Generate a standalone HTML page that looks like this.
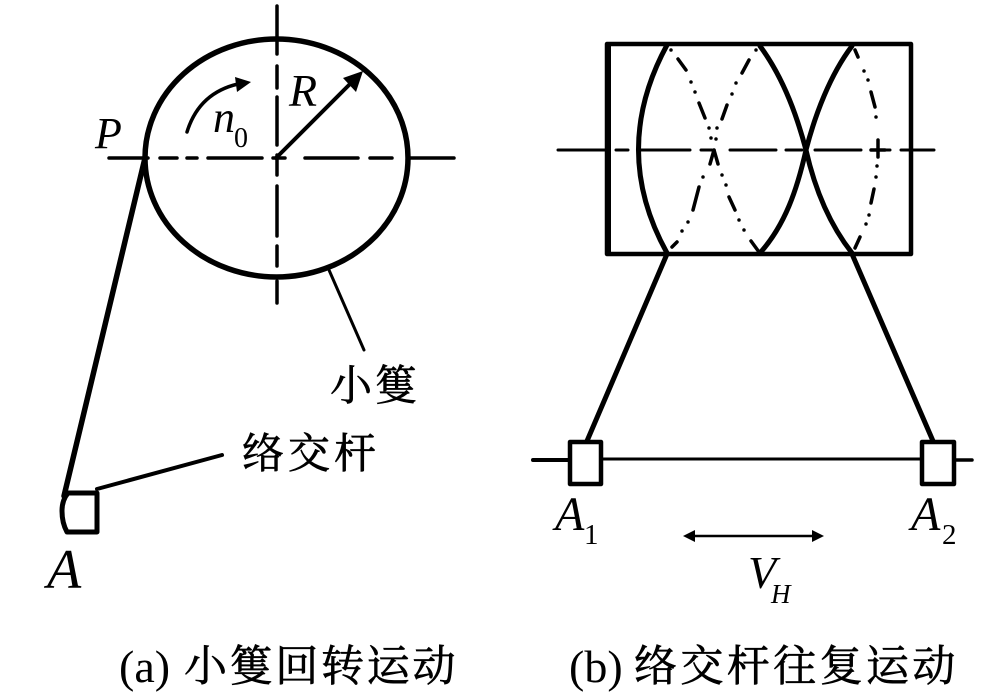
<!DOCTYPE html>
<html><head><meta charset="utf-8">
<style>
html,body{margin:0;padding:0;background:#fff}
svg{display:block;filter:blur(.35px)}
.c{font-family:"Liberation Serif","Noto Serif CJK SC",serif;fill:#000;stroke:#000;stroke-width:.7px}
.i{font-family:"Liberation Serif",serif;font-style:italic;fill:#000}
.r{font-family:"Liberation Serif",serif;fill:#000}
</style></head><body>
<svg width="1000" height="698" viewBox="0 0 1000 698" xmlns="http://www.w3.org/2000/svg">
<g fill="none" stroke="#000" stroke-linecap="round" stroke-linejoin="round">
<!-- circle -->
<ellipse cx="276.500" cy="158" rx="131.500" ry="119" stroke-width="5.500"/>
<!-- axes -->
<path stroke-width="3.500" d="M277 6V54M277 66V88M277 97V145M277 155V175M277 186V236M277 246V266M277 281V303"/>
<path stroke-width="3.500" d="M109 158H148M160 158H177M187 158H197M208 158H262M273 158H285M305 158H358M370 158H392M410 158H454"/>
<!-- tangent P to A -->
<path stroke-width="5.500" d="M145 158L64 496"/>
<!-- radius -->
<path stroke-width="4" d="M276 158L352 82"/>
<path fill="#000" stroke="none" d="M363 71L343 78L356 92Z"/>
<!-- rotation arrow -->
<path stroke-width="3.500" d="M187 132Q199 93 238 84"/>
<path fill="#000" stroke="none" d="M251 82L235 77L237 92Z"/>
<!-- leader -->
<path stroke-width="3" d="M329 270L364 350"/>
<path stroke-width="4" d="M97 489L222 455"/>
<!-- slider A -->
<path stroke-width="5" d="M68 493H97V532H67Q62 523 62 511Q62 500 68 493Z"/>
<!-- rectangle -->
<path stroke-width="4.500" d="M607 44H911V254H607Z"/>
<path stroke-width="6" d="M608 45V253"/>
<!-- axis -->
<path stroke-width="3" d="M558 150H606M616 150H628M640 150H690M701 150H712M730 150H776M786 150H802M815 150H861M873 150H890M901 150H934"/>
<!-- solid curves -->
<path stroke-width="5" d="M667 45Q610 150 667 253"/>
<path stroke-width="5" d="M760 46C785 80 798 120 806 150C815 190 830 225 852 253"/>
<path stroke-width="5" d="M852 46C830 75 815 115 806 150C797 190 785 225 760 253"/>
<!-- hidden curves -->
<g stroke-width="3.500">
<path d="M671 50V50M678 59L686 70M691 82V82M695 92V92M699 103L705 118M709 128V128M711 138V138"/>
<path d="M756 50V50M749 60L742 73M736 83V83M732 94V94M727 105L722 119M717 128V128M716 139V139"/>
<path d="M714 150L710 164M703 177V177M699 187L693 210M688 222V222M682 231V231M672 247L677 242"/>
<path d="M714 150L718 164M722 175V175M726 185V185M729 197L735 210M739 220V220M744 230V230M751 241L759 252"/>
<path d="M855 50L858 57M864 71V71M868 80V80M871 92L875 107M876 117V117M878 140V157M877 166V166M876 177V177M874 189L871 203M869 215V215M866 224V224M860 237L855 248"/>
<path d="M871 150H885"/>
</g>
<!-- lower tangents -->
<path stroke-width="5" d="M667 254L587 441"/>
<path stroke-width="5" d="M852 254L933 441"/>
<!-- rod -->
<path stroke-width="4" d="M533 460H568"/>
<path stroke-width="3" d="M602 459H921"/>
<path stroke-width="3.500" d="M955 460H972"/>
<path stroke-width="4.500" d="M570 442H601V484H570Z"/>
<path stroke-width="4.500" d="M922 442H954V484H922Z"/>
<!-- VH arrow -->
<path stroke-width="2.500" d="M690 536H818"/>
<path fill="#000" stroke="none" d="M683 536L695 530V542ZM824 536L812 530V542Z"/>
</g>
<text class="i" x="95" y="148" font-size="44">P</text>
<text class="i" x="289" y="106" font-size="46">R</text>
<text class="i" x="213" y="132" font-size="44">n</text>
<text class="r" x="234" y="147" font-size="28">0</text>
<text class="i" x="47" y="588" font-size="56">A</text>
<text class="i" x="555" y="530" font-size="48">A</text>
<text class="r" x="584" y="544" font-size="29">1</text>
<text class="i" x="911" y="530" font-size="48">A</text>
<text class="r" x="942" y="544" font-size="29">2</text>
<text class="i" x="748" y="588" font-size="46">V</text>
<text class="i" x="771" y="603" font-size="27">H</text>
<text class="c" x="330" y="400" font-size="42" letter-spacing="3">小篗</text>
<text class="c" x="242" y="468" font-size="42" letter-spacing="4">络交杆</text>
<text class="r" x="119" y="682" font-size="46">(a)</text>
<text class="c" x="184" y="681" font-size="43" letter-spacing="2.700">小篗回转运动</text>
<text class="r" x="569" y="682" font-size="46">(b)</text>
<text class="c" x="634" y="681" font-size="43" letter-spacing="3.400">络交杆往复运动</text>
</svg>
</body></html>
